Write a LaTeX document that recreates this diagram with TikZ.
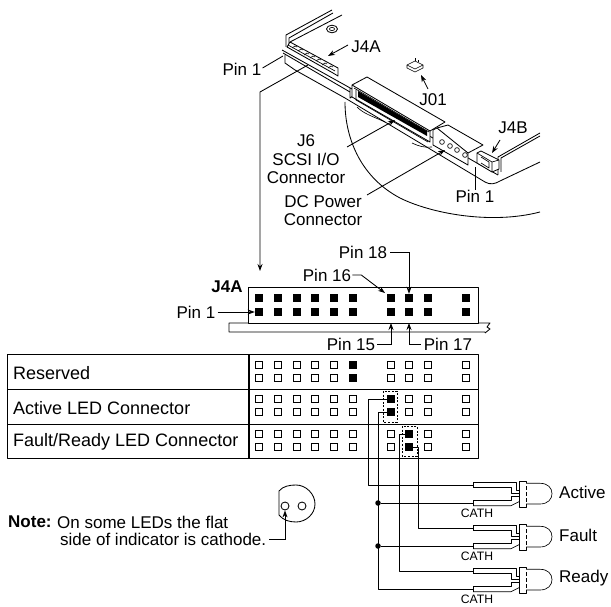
\documentclass[tikz,border=0pt]{standalone}
\usepackage{fontspec}
\setmainfont{Liberation Sans}
\usepackage{tikz}
\usetikzlibrary{arrows.meta}
\tikzset{
  base/.style={draw=black, line width=0.85pt, line join=round},
  thin1/.style={draw=black, line width=0.65pt, line join=round},
  lead/.style={draw=black, line width=0.85pt, -{Stealth[length=7pt,width=5pt]}},
  dash1/.style={draw=black, line width=0.8pt, dash pattern=on 2pt off 1.6pt},
  pinon/.style={rectangle, fill=black, minimum size=8pt, inner sep=0pt},
  pinoff/.style={rectangle, draw=black, line width=0.7pt, minimum size=6.4pt, inner sep=0pt},
  lab/.style={font=\fontsize{17}{20}\selectfont, inner sep=0pt},
  labt/.style={font=\fontsize{18}{21}\selectfont, inner sep=0pt, anchor=west},
  labs/.style={font=\fontsize{12.2}{14}\selectfont, inner sep=0pt},
  dot/.style={circle, fill=black, inner sep=0pt, minimum size=5.5pt},
  ring/.style={circle, draw=black, line width=0.85pt, minimum size=8pt, inner sep=0pt},
}
\def\pinxs{259,278,297,315,334,353,391,409,428,466}
\begin{document}
\begin{tikzpicture}[x=1pt,y=-1pt]
  \useasboundingbox (0,0) rectangle (611,607);
  % drive outline
  \draw[base] (332,10) -- (286,35) -- (286,47);
  \draw[base] (333,13) -- (289,38) -- (289,44);
  \draw[base] (342,15) -- (290,42);
  \draw[base] (332,29) ellipse (5.5 and 3.8);
  \draw[thin1] (332,29) ellipse (2.6 and 1.6);
  \draw[base] (345,102) .. controls (345,140) and (362,178) .. (400,198) .. controls (430,213) and (490,225) .. (540,212);
  \draw[base] (540,133) -- (498,157) -- (498,175);
  \draw[base] (540,136) -- (501,158) -- (501,172);
  \draw[base] (540,162) -- (500,181) .. controls (495,184) and (490,185) .. (485,182);
  \draw[base] (282,50) -- (352,89);
  \draw[base] (283,53) -- (350,92);
  \draw[base] (285,55) -- (285,63) -- (295,70) -- (345,98) -- (485,182);
  \draw[base] (350,88) -- (350,98) -- (353,96);
  \draw[base] (352,92) -- (498,175);
  \draw[thin1] (357,107) .. controls (364,114) and (372,116) .. (385,122);
  \draw[thin1] (412,143) .. controls (418,146) and (425,148) .. (432,147);
  % J4A connector
  \draw[base, fill=white] (290,42) -- (338,68) -- (338,76) -- (333,73) -- (287,47) -- cycle;
  \draw[thin1] (288,45) -- (335,71);
  \foreach \x/\y in {292/48,298/51,304/55,310/58,316/61,322/65,328/68}
    \draw[thin1] (\x,\y) -- ++(3,-2) -- ++(2,1);
  % J6 and power connector
  \draw[base, fill=white] (352,85) -- (367,77) -- (445,122) -- (430,131) -- (430,142) -- (352,97) -- cycle;
  \draw[base] (352,85) -- (430,131);
  \draw[thin1] (354,88) -- (429,132);
  \fill[black] (358,91) -- (427,131) -- (427,136) -- (358,97) -- cycle;
  \draw[thin1] (356,90) -- (356,100) -- (428,142);
  \draw[base, fill=white] (437,128) -- (448,125) -- (483,145) -- (468,153) -- (468,165) -- (433,145) -- (433,130) -- cycle;
  \draw[base] (437,128) -- (468,153);
  \foreach \x/\y in {442/142,450/146,457/150,465/155}
    \draw[thin1] (\x,\y) circle (2.4);
  % J4B connector
  \draw[base, fill=white] (477,153) -- (481,151) -- (499,160) -- (499,169) -- (492,172) -- (477,163) -- cycle;
  \draw[thin1] (477,153) -- (492,162) -- (492,172) (492,162) -- (499,160);
  \draw[thin1] (481,157) -- (489,162) -- (489,168) -- (481,163);
  % J01 jumper
  \draw[thin1] (407,65) -- (415,61) -- (423,65) -- (423,68) -- (415,72) -- (407,68) -- cycle;
  \draw[thin1] (407,65) -- (415,69) -- (423,65);
  \draw[thin1] (415,61) -- (415,58) (418,62) -- (418,60);
  % upper labels
  \node[lab] (pinA) at (242,69) {Pin 1};
  \node[lab] (ja) at (366,47) {J4A};
  \node[lab] (jo) at (433,100) {J01};
  \node[lab] (jb) at (513,128) {J4B};
  \node[lab] (jsa) at (306,141) {J6};
  \node[lab] (jsb) at (306,159) {SCSI I/O};
  \node[lab] (jsc) at (306,178) {Connector};
  \node[lab] (dca) at (323,202) {DC Power};
  \node[lab] (dcb) at (323,220) {Connector};
  \node[lab] (pinB) at (475,196) {Pin 1};
  \coordinate (jatip) at (328,56);
  \coordinate (jotip) at (421,75);
  \coordinate (jbtip) at (492,153);
  \coordinate (jstip) at (395,120);
  \coordinate (dctip) at (445,150);
  \coordinate (pinAend) at (283,56);
  \coordinate (pinBend) at (475,167);
  \coordinate (drop) at (260,92);
  \coordinate (dropend) at (308,65);
  \coordinate (droptip) at (260,271);
  \draw[lead] (348,45) -- (jatip);
  \draw[lead] (428,89) -- (jotip);
  \draw[lead] (500,140) -- (jbtip);
  \draw[lead] (347,147) -- (jstip);
  \draw[lead] (367,195) -- (dctip);
  \draw[base] (pinA.east) ++(1,-1) -- (pinAend);
  \draw[base] (pinB.north) -- (pinBend);
  \draw[lead] (dropend) -- (drop) -- (droptip);
  % J4A header
  \draw[base] (485,332) -- (229,332) -- (229,323) -- (490,323) -- (487,327) -- (490,329) -- (485,333);
  \draw[base, fill=white] (248,287) rectangle (478,323);
  \foreach \x in \pinxs {
    \node[pinon] (hu\x) at (\x,298) {};
    \node[pinon] (hl\x) at (\x,312) {};
  }
  \node[lab, font=\fontsize{17}{20}\selectfont\bfseries] (hname) at (227,287) {J4A};
  \node[lab] (p1) at (196,312) {Pin 1};
  \node[lab] (p16) at (327,275) {Pin 16};
  \node[lab] (p18) at (363,252) {Pin 18};
  \node[lab] (p15) at (351,344) {Pin 15};
  \node[lab] (p17) at (448,344) {Pin 17};
  \draw[lead] (p1.east) ++(2,0) -- (hl259.west);
  \draw[lead] (p16.east) ++(1,0) -- ++(9,0) -- (385,293);
  \draw[lead] (p18.east) ++(3,0) -- (hu409 |- p18) -- (hu409.north);
  \draw[lead] (p15.east) ++(2,0) -- (hl391 |- p15) -- (391,323);
  \draw[lead] (p17.west) ++(-3,0) -- (hl409 |- p17) -- (409,323);
  % pin table
  \draw[base] (7,354) rectangle (478,458);
  \draw[base] (7,389) -- (478,389) (7,424) -- (478,424);
  \draw[draw=black, line width=1.4pt] (249,354) -- (249,458);
  \node[labt] (trow1) at (13,373) {Reserved};
  \node[labt] (trow2) at (13,408) {Active LED Connector};
  \node[labt] (trow3) at (13,442) {Fault/Ready LED Connector};
  \foreach \y in {365,378,399,412,434,447}
    \foreach \x in \pinxs
      \node[pinoff] (t\y-\x) at (\x,\y) {};
  \node[pinon] (res1) at (353,365) {};
  \node[pinon] (res2) at (353,378) {};
  \node[pinon] (act1) at (391,399) {};
  \node[pinon] (act2) at (391,412) {};
  \node[pinon] (flt1) at (409,434) {};
  \node[pinon] (flt2) at (409,447) {};
  \draw[dash1] (383,391) rectangle (397,422);
  \draw[dash1] (402,426) rectangle (417,456);
  % LEDs
  \foreach \y/\n/\t in {485/A/Active,528/F/Fault,571/R/Ready} {
    \begin{scope}[shift={(0,\y)}]
      \coordinate (led\n a) at (473,0);
      \coordinate (led\n c) at (473,18);
      \draw[thin1] (473,-2.3) -- (516,-2.3) -- (516,5.7) -- (519,5.7);
      \draw[thin1] (473,2.7) -- (511,2.7) -- (511,8.3) -- (519,8.3);
      \draw[thin1] (473,15.7) -- (511,15.7) -- (511,11) -- (519,11);
      \draw[thin1] (473,20.7) -- (511,20.7) -- (519,16.7);
      \draw[thin1] (473,-2.3) -- (473,2.7) (473,15.7) -- (473,20.7);
      \draw[thin1] (526,-1.7) -- (526,-3.3) -- (519,-3.3) -- (519,22.3) -- (526,22.3) -- (526,19);
      \draw[thin1] (526,-1.7) -- (540,-1.7) .. controls (548,-1.7) and (552,3) .. (552,8.7) .. controls (552,14) and (548,19) .. (540,19) -- (526,19);
      \draw[thin1, dash pattern=on 3.5pt off 2.5pt] (526,1) -- (526,17);
      \node[labs] (cath\n) at (477,28) {CATH};
      \node[lab, anchor=west] (name\n) at (559,7) {\t};
    \end{scope}
  }
  \coordinate (busA) at (368,399);
  \coordinate (busC) at (378,412);
  \coordinate (busF) at (418,447);
  \coordinate (busR) at (399,434);
  \draw[base] (act1.west) -- (busA) |- (ledAa);
  \draw[base] (act2.west) -- (busC) |- (ledRc);
  \draw[base] (flt2.east) -- (busF) |- (ledFa);
  \draw[base] (flt1.west) -- (busR) |- (ledRa);
  \node[dot] (jA) at (busC |- ledAc) {};
  \node[dot] (jF) at (busC |- ledFc) {};
  \draw[base] (jA) -- (ledAc);
  \draw[base] (jF) -- (ledFc);
  % note
  \node[lab, anchor=west, font=\fontsize{17}{20}\selectfont\bfseries] (note) at (8,522) {Note:};
  \node[lab, anchor=west] (notea) at (57,522) {On some LEDs the flat};
  \node[lab, anchor=west] (noteb) at (60,539) {side of indicator is cathode.};
  \draw[base] (279,515) -- (279,491) .. controls (283,486) and (290,485) .. (296,485) .. controls (306,485) and (315,494) .. (315,504) .. controls (315,514) and (306,522) .. (296,522) .. controls (289,522) and (283,520) .. (279,515);
  \node[ring] (cathring) at (285,506) {};
  \node[ring] (anring) at (302,506) {};
  \draw[lead] (noteb.east) ++(3,0) -- (cathring |- noteb) -- (cathring.south);
\end{tikzpicture}
\end{document}
